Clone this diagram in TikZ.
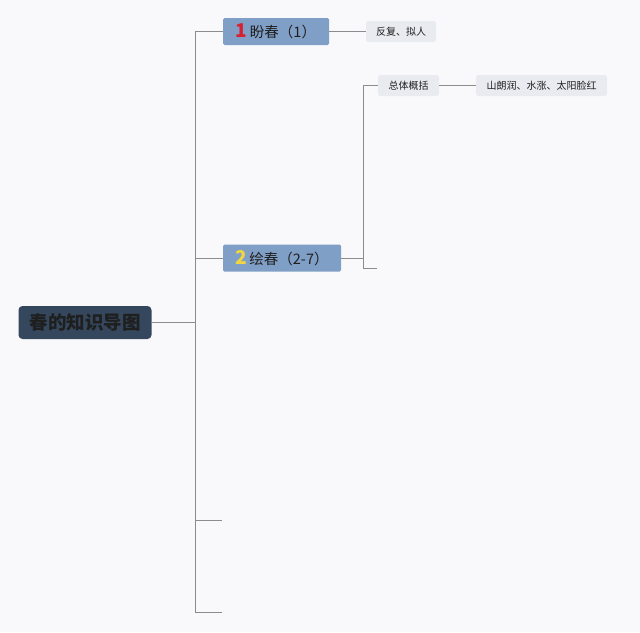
\documentclass[tikz,border=0pt]{standalone}
\usepackage{fontspec}
\setmainfont{Noto Sans CJK SC}
\usepackage{xcolor}
\definecolor{rootbg}{HTML}{34475D}
\definecolor{mainbg}{HTML}{809FC6}
\definecolor{leafbg}{HTML}{E9EBF0}
\definecolor{linegray}{HTML}{8C8C8C}
\definecolor{numred}{HTML}{D9202E}
\definecolor{numyel}{HTML}{F2D640}
\definecolor{pagebg}{HTML}{F9F9FB}

\begin{document}
\begin{tikzpicture}
  [x=1pt,y=-1pt,line width=0.9pt,
   every node/.style={inner sep=0pt,text=black!88},
   rootbox/.style={rectangle,rounded corners=4pt,fill=rootbg,minimum width=133pt,minimum height=33pt,font=\fontsize{18.5}{20}\selectfont\bfseries},
   mainbox/.style={rectangle,rounded corners=1.5pt,fill=mainbg,minimum height=27pt,font=\fontsize{14.5}{16}\selectfont},
   leafbox/.style={rectangle,rounded corners=2.5pt,fill=leafbg,minimum height=21pt,font=\fontsize{10}{12}\selectfont}]
  \fill[pagebg] (0,0) rectangle (640,632);
  \useasboundingbox (0,0) rectangle (640,632);

  \node[rootbox] (root) at (85,322.5) {春的知识导图};
  \node[mainbox,minimum width=106pt] (b1) at (276,31.5) {{\fontsize{19}{19}\selectfont\bfseries\color{numred}1}\,盼春（1）};
  \node[mainbox,minimum width=118pt] (b2) at (282,258) {{\fontsize{19}{19}\selectfont\bfseries\color{numyel}2}\,绘春（2-7）};
  \node[leafbox,minimum width=70pt] (l1) at (401,31.5) {反复、拟人};
  \node[leafbox,minimum width=61pt] (s1) at (408.5,85.5) {总体概括};
  \node[leafbox,minimum width=131pt] (l2) at (541.5,85.5) {山朗润、水涨、太阳脸红};

  \coordinate (t) at (195,322.5);
  \coordinate (j2) at (363,258);
  \coordinate (e2) at (377,268);
  \coordinate (e3) at (222,520);
  \coordinate (e4) at (222,612);

  \draw[linegray] (root) -- (t);
  \foreach \to in {b1.west,b2.west,e3,e4}
    \draw[linegray] (t) |- (\to);
  \draw[linegray] (b2) -- (j2);
  \foreach \to in {s1.west,e2}
    \draw[linegray] (j2) |- (\to);
  \foreach \from/\to in {b1/l1,s1/l2}
    \draw[linegray] (\from) -- (\to);

\end{tikzpicture}
\end{document}
